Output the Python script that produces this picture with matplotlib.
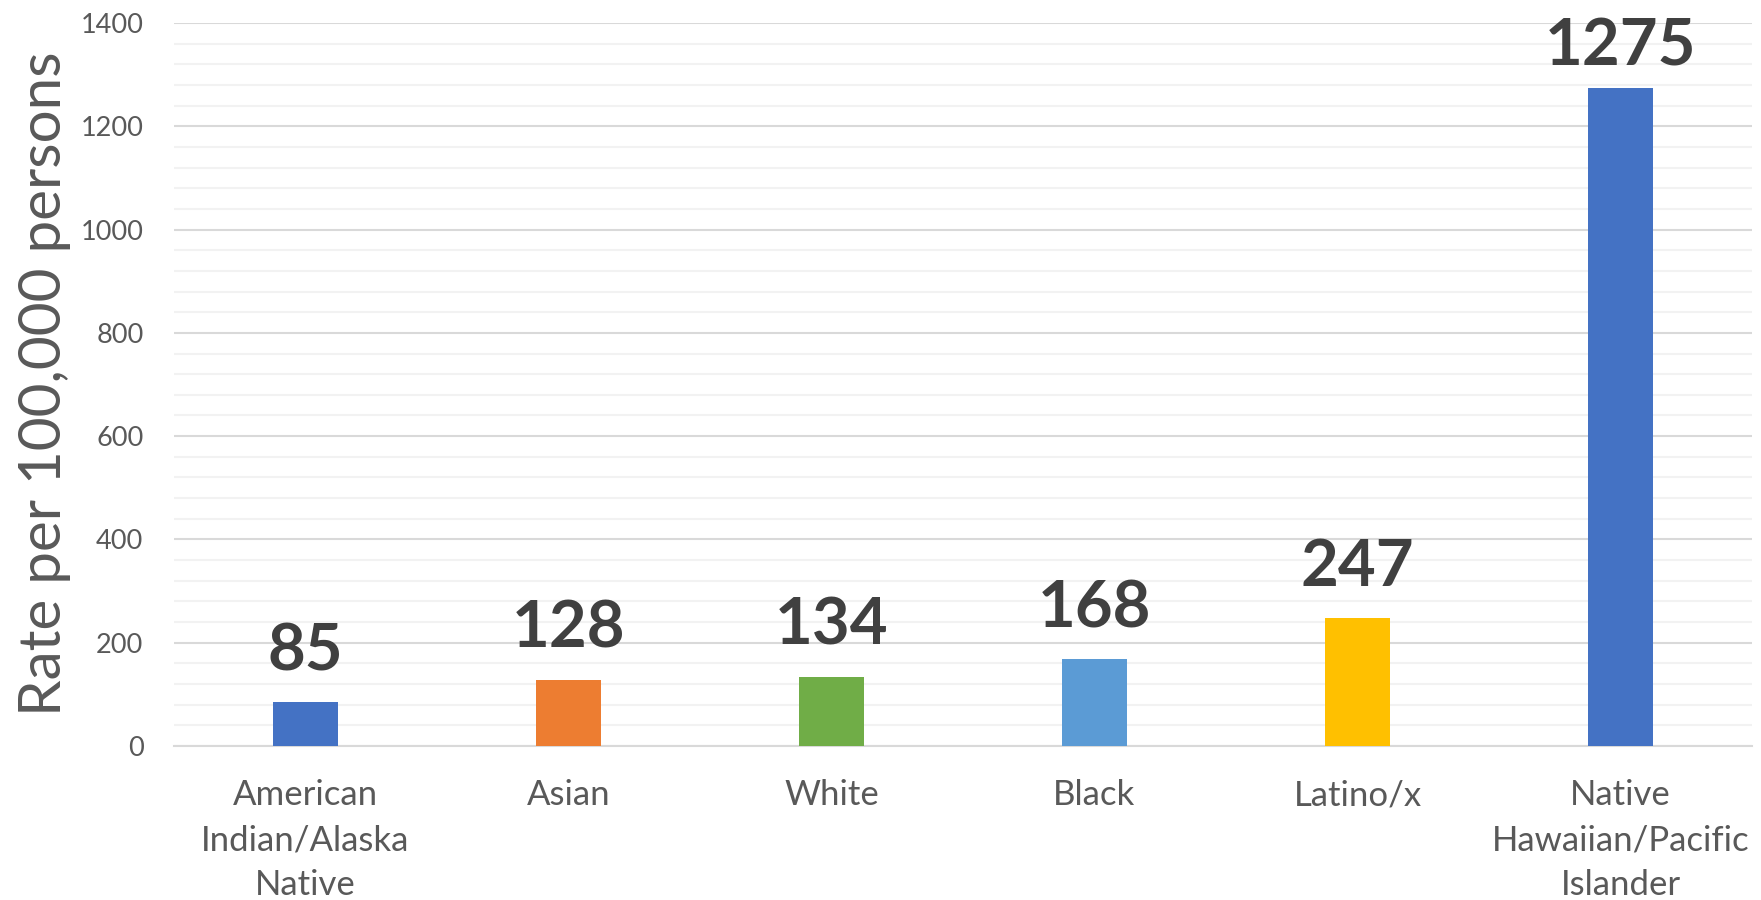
import numpy as np
import matplotlib.pyplot as plt
from matplotlib.ticker import MultipleLocator

groups = ["American\nIndian/Alaska\nNative", "Asian", "White", "Black",
          "Latino/x", "Native\nHawaiian/Pacific\nIslander"]
rates = [85, 128, 134, 168, 247, 1275]
colors = ["#4472C4", "#ED7D31", "#70AD47", "#5B9BD5", "#FFC000", "#4472C4"]

plt.rcParams['font.family'] = ['Lato', 'DejaVu Sans']

fig = plt.figure(figsize=(17.61, 9), dpi=100)
ax = fig.add_axes([174/1761, 1 - 746/900, (1752 - 174)/1761, (746 - 23)/900])

x = np.arange(len(groups))
ax.bar(x, rates, width=0.25, color=colors, zorder=3)

for xi, r in zip(x, rates):
    # tallest label gets nudged down a bit to stay inside the chart, like Excel does
    off = 16 if r > 1200 else 23
    ax.annotate(str(r), (xi, r), xytext=(0, off), textcoords='offset points',
                ha='center', va='baseline', fontsize=47, fontweight='bold',
                color='#404040', zorder=4)

ax.set_xlim(-0.5, len(groups) - 0.5)
ax.set_ylim(0, 1400)
ax.yaxis.set_major_locator(MultipleLocator(200))
ax.yaxis.set_minor_locator(MultipleLocator(40))
ax.grid(axis='y', which='major', color='#d9d9d9', linewidth=1.5, zorder=0)
ax.grid(axis='y', which='minor', color='#f2f2f2', linewidth=1.5, zorder=0)
ax.set_axisbelow(True)

for s in ['top', 'right', 'left']:
    ax.spines[s].set_visible(False)
ax.spines['bottom'].set_color('#d9d9d9')
ax.spines['bottom'].set_linewidth(1.5)

ax.set_xticks(x)
ax.set_xticklabels(groups, fontsize=25, color='#595959', linespacing=1.5)
ax.tick_params(axis='x', length=0, pad=24)
ax.tick_params(axis='y', which='both', length=0, pad=22, labelsize=19.5,
               labelcolor='#595959')

fig.text(45/1761, 1 - 384/900, "Rate per 100,000 persons", rotation=90,
         ha='center', va='center', fontsize=42, color='#595959')

fig.savefig('out.png', dpi=100)
